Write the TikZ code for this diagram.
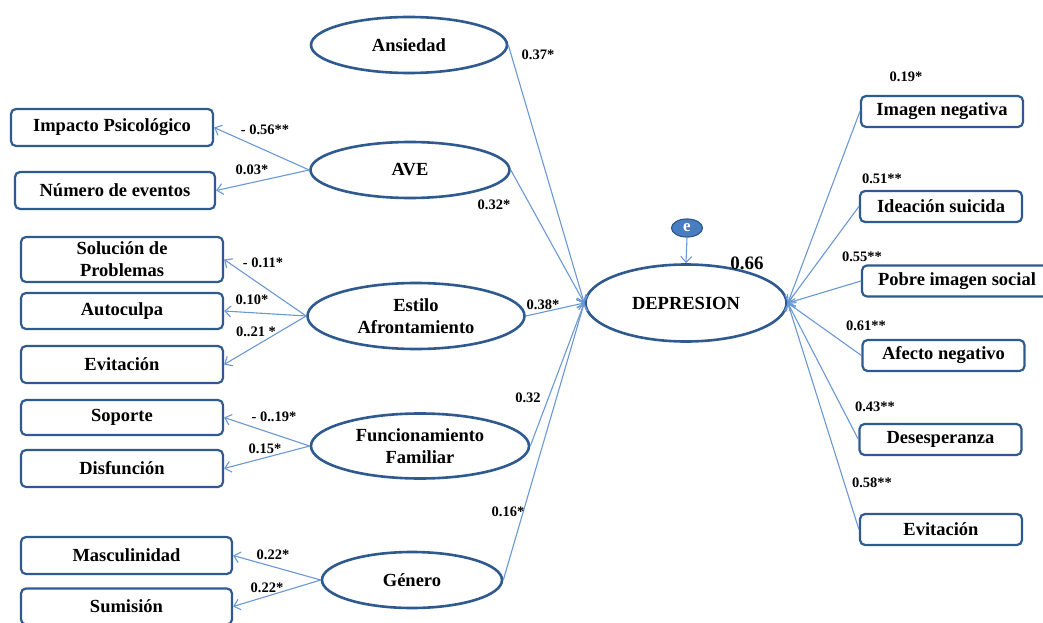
\documentclass[tikz,border=0pt]{standalone}
\usepackage{fontspec}
\setmainfont{Liberation Serif}
\usetikzlibrary{shapes.geometric,arrows.meta}
\definecolor{dkblue}{HTML}{2E5A90}
\definecolor{lnblue}{HTML}{6A98D4}
\definecolor{efill}{HTML}{4A7CC0}
\tikzset{
  lat/.style={ellipse, draw=dkblue, line width=2.6pt, fill=white, inner sep=0pt, align=center,
    font=\fontsize{18.5}{22}\selectfont\bfseries},
  obs/.style={rectangle, rounded corners=5pt, draw=dkblue, line width=2.2pt, fill=white, inner sep=0pt, align=center,
    font=\fontsize{18.5}{22}\selectfont\bfseries},
  conn/.style={draw=lnblue, line width=1.1pt, -{Straight Barb[length=6pt,width=11pt]}},
  lab/.style={inner sep=0pt, font=\fontsize{14.5}{16}\selectfont\bfseries},
}
\begin{document}
\begin{tikzpicture}[x=1pt,y=-1pt]
\useasboundingbox (0,0) rectangle (1043,623);
% latent variables
\node[lat, minimum width=196, minimum height=56] (ans) at (409,45) {Ansiedad};
\node[lat, minimum width=199, minimum height=56] (ave) at (410,170) {AVE};
\node[lat, minimum width=217, minimum height=66] (est) at (416,316) {Estilo\\Afrontamiento};
\node[lat, minimum width=218, minimum height=65] (fun) at (420,446) {Funcionamiento\\Familiar};
\node[lat, minimum width=180, minimum height=56] (gen) at (412,580) {Género};
\node[lat, minimum width=201, minimum height=77] (dep) at (686,303) {DEPRESION};
\node[ellipse, draw=dkblue, line width=1.2pt, fill=efill, minimum width=31, minimum height=18, inner sep=0pt,
  text=white, font=\fontsize{17}{17}\selectfont\bfseries] (e) at (687,228) {e};
% left indicators
\node[obs, minimum width=202, minimum height=37] (imp) at (112,127.5) {Impacto Psicológico};
\node[obs, minimum width=200, minimum height=37] (num) at (115,190.5) {Número de eventos};
\node[obs, minimum width=202, minimum height=45] (sol) at (122,259.5) {Solución de\\Problemas};
\node[obs, minimum width=202, minimum height=36] (aut) at (122,311) {Autoculpa};
\node[obs, minimum width=202, minimum height=37] (evl) at (122,364.5) {Evitación};
\node[obs, minimum width=202, minimum height=35] (sop) at (122,417.5) {Soporte};
\node[obs, minimum width=202, minimum height=37] (dis) at (122,468.5) {Disfunción};
\node[obs, minimum width=211, minimum height=37] (mas) at (126.5,555.5) {Masculinidad};
\node[obs, minimum width=211, minimum height=36] (sum) at (126.5,606.5) {Sumisión};
% right indicators
\node[obs, minimum width=162, minimum height=31] (ima) at (942,111.5) {Imagen negativa};
\node[obs, minimum width=162, minimum height=31] (ide) at (941,206.5) {Ideación suicida};
\node[obs, minimum width=190, minimum height=31] (pob) at (957,281) {Pobre imagen social};
\node[obs, minimum width=162, minimum height=31] (afe) at (943.5,355.5) {Afecto negativo};
\node[obs, minimum width=162, minimum height=31] (des) at (940.5,439.5) {Desesperanza};
\node[obs, minimum width=162, minimum height=31] (evr) at (941,529.5) {Evitación};
% connectors: latent to indicators
\draw[conn] (ave.west) -- (imp.east);
\draw[conn] (ave.west) -- (num.east);
\draw[conn] (est.west) -- (sol.east);
\draw[conn] (est.west) -- (aut.east);
\draw[conn] (est.west) -- (evl.east);
\draw[conn] (fun.west) -- (sop.east);
\draw[conn] (fun.west) -- (dis.east);
\draw[conn] (gen.west) -- (mas.east);
\draw[conn] (gen.west) -- (sum.east);
% predictors to depression
\draw[conn] (ans.east) -- (dep.west);
\draw[conn] (ave.east) -- (dep.west);
\draw[conn] (est.east) -- (dep.west);
\draw[conn] (fun.east) -- (dep.west);
\draw[conn] (gen.east) -- (dep.west);
\draw[conn] (e.south) -- (dep.north);
% right indicators to depression
\draw[conn] (ima.west) -- (dep.east);
\draw[conn] (ide.west) -- (dep.east);
\draw[conn] (pob.west) -- (dep.east);
\draw[conn] (afe.west) -- (dep.east);
\draw[conn] (des.west) -- (dep.east);
\draw[conn] (evr.west) -- (dep.east);
% labels
\node[lab] (l1) at (538,55) {0.37*};
\node[lab] (l2) at (265,130) {- 0.56**};
\node[lab] (l3) at (252,170) {0.03*};
\node[lab] (l4) at (494,205) {0.32*};
\node[lab] (l5) at (263,263) {- 0.11*};
\node[lab] (l6) at (252,300) {0.10*};
\node[lab] (l7) at (256,332) {0..21 *};
\node[lab] (l8) at (543,305) {0.38*};
\node[lab] (l9) at (528,398) {0.32};
\node[lab] (l10) at (274,417) {- 0..19*};
\node[lab] (l11) at (265,449) {0.15*};
\node[lab] (l12) at (508,512) {0.16*};
\node[lab] (l13) at (273,555) {0.22*};
\node[lab] (l14) at (267,588) {0.22*};
\node[lab, font=\fontsize{19}{20}\selectfont\bfseries] (l15) at (747,263) {0.66};
\node[lab] (l16) at (906,77) {0.19*};
\node[lab] (l17) at (882,179) {0.51**};
\node[lab] (l18) at (862,257) {0.55**};
\node[lab] (l19) at (866,326) {0.61**};
\node[lab] (l20) at (875,407) {0.43**};
\node[lab] (l21) at (872,483) {0.58**};
\end{tikzpicture}
\end{document}
